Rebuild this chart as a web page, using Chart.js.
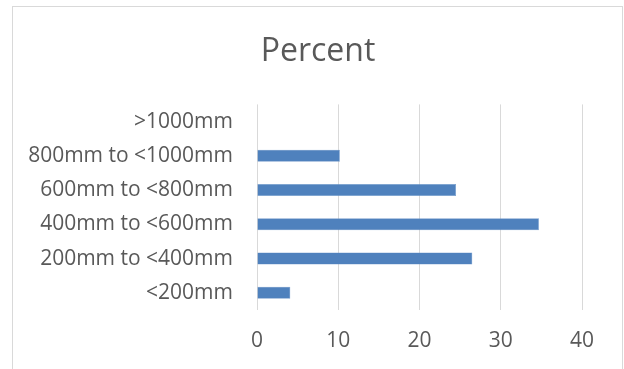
<!DOCTYPE html>
<html>
<head>
<meta charset="utf-8">
<script src="https://cdn.jsdelivr.net/npm/chart.js@4/dist/chart.umd.min.js"></script>
<style>
  html, body { margin: 0; padding: 0; background: #ffffff; overflow: hidden; }
  #wrap { position: relative; width: 624px; height: 369px; }
  #frame { position: absolute; left: 12px; top: 6px; width: 611px; height: 380px;
           border: 1px solid #d9d9d9; box-sizing: border-box; pointer-events: none; }
  canvas { position: absolute; left: 0; top: 0; }
</style>
</head>
<body>
<div id="wrap">
  <canvas id="chart" width="624" height="369"></canvas>
  <div id="frame"></div>
</div>
<script>
// Rainfall bands, bottom to top
const categories = ["<200mm", "200mm to <400mm", "400mm to <600mm", "600mm to <800mm", "800mm to <1000mm", ">1000mm"];
const percentValues = [4.1, 26.5, 34.7, 24.5, 10.2, 0];
const xTicks = [0, 10, 20, 30, 40];
const chartTitle = "Percent";

const textColor = "#595959";
const fontFamily = "'Open Sans', 'Liberation Sans', sans-serif";

// Centre the title over the whole frame rather than over the plot padding box
const titleCenter = {
  id: "titleCenter",
  afterLayout(chart) {
    if (chart.titleBlock) {
      chart.titleBlock.left = 12;
      chart.titleBlock.right = 624;
      chart.titleBlock.width = 612;
    }
  }
};

new Chart(document.getElementById("chart"), {
  type: "bar",
  data: {
    labels: categories,
    datasets: [{
      label: chartTitle,
      data: percentValues,
      backgroundColor: "#4f81bd",
      borderColor: "#6f98cb",
      borderWidth: 0.5,
      barPercentage: 0.35,
      categoryPercentage: 1.0
    }]
  },
  options: {
    indexAxis: "y",
    responsive: false,
    animation: false,
    layout: { padding: { left: 12, right: 42, top: 6, bottom: 0 } },
    plugins: {
      legend: { display: false },
      tooltip: { enabled: false },
      title: {
        display: true,
        text: chartTitle,
        color: textColor,
        font: { family: fontFamily, size: 32, weight: "normal", lineHeight: 1.2 },
        padding: { top: 27, bottom: 33 }
      }
    },
    scales: {
      x: {
        min: xTicks[0],
        max: xTicks[xTicks.length - 1],
        afterBuildTicks(scale) { scale.ticks = xTicks.map(v => ({ value: v })); },
        afterFit(scale) { scale.height = 59; },
        grid: { color: "#d9d9d9", lineWidth: 1, drawTicks: false },
        border: { display: false },
        ticks: {
          color: textColor,
          padding: 18,
          font: { family: fontFamily, size: 21, lineHeight: 1.2 }
        }
      },
      y: {
        reverse: true,
        afterFit(scale) { scale.width = 245; },
        grid: { display: false, drawTicks: false },
        border: { display: false },
        ticks: {
          color: textColor,
          padding: 24,
          font: { family: fontFamily, size: 21, lineHeight: 1.2 }
        }
      }
    }
  },
  plugins: [titleCenter]
});
</script>
</body>
</html>
